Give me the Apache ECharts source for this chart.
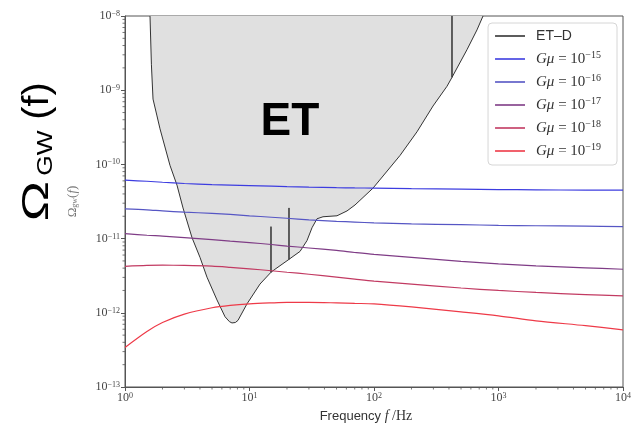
<!DOCTYPE html>
<html>
<head>
<meta charset="utf-8">
<script src="https://cdn.jsdelivr.net/npm/echarts@6/dist/echarts.min.js"></script>
<style>
  html, body { margin: 0; padding: 0; background: #fff; }
  #chart { width: 634px; height: 428px; }
</style>
</head>
<body>
<div id="chart"></div>
<script>
// ET-D sensitivity curve (power-law integrated), frequency in Hz
const freqET = [1.588, 1.63, 1.679, 1.807, 1.91, 2.298, 2.616, 2.924, 3.453, 4.004, 4.556, 5.48, 6.36, 6.9, 7.23, 7.7, 8.08, 9.55,
  12.14, 14.88, 14.88, 14.88, 16.02, 20.76, 20.76, 20.76, 22.36, 25.44, 28.96, 31.77, 34.85, 38.94, 50.44, 60.7,
  70.4, 98.2, 161.8, 221.5, 297.8, 385.8, 423.1, 423.1, 423.1, 558.5, 671.8, 751];
const omegaET = [1e-8, 2.2e-9, 7.59e-10, 4.5e-10, 3.02e-10, 9.7e-11, 5.25e-11, 2.59e-11, 1.03e-11, 5.58e-12, 3.02e-12, 1.49e-12,
  8.85e-13, 7.6e-13, 7.3e-13, 7.4e-13, 7.9e-13, 1.32e-12, 2.44e-12, 3.52e-12, 1.45e-11, 3.52e-12, 3.86e-12, 5.25e-12, 2.59e-11,
  5.25e-12, 5.75e-12, 6.71e-12, 9.4e-12, 1.40e-11, 1.85e-11, 1.97e-11, 2.03e-11, 2.36e-11, 2.84e-11, 4.79e-11,
  1.32e-10, 2.75e-10, 6.12e-10, 1.13e-9, 1.49e-9, 1e-8, 1.49e-9, 3.52e-9, 6.5e-9, 1e-8];

// Cosmic-string background spectra, sampled on a common frequency grid
const freqGmu = [1, 1.5, 2, 3, 5, 7, 10, 15, 20, 30, 50, 70, 100, 200, 500, 1000, 2000, 5000, 10000];
const omegaGmu15 = [6.12e-11, 5.93e-11, 5.75e-11, 5.53e-11, 5.33e-11, 5.25e-11, 5.17e-11, 5.09e-11, 5.01e-11, 4.93e-11,
  4.86e-11, 4.82e-11, 4.79e-11, 4.71e-11, 4.64e-11, 4.57e-11, 4.55e-11, 4.5e-11, 4.5e-11];
const omegaGmu16 = [2.51e-11, 2.44e-11, 2.36e-11, 2.27e-11, 2.19e-11, 2.12e-11, 2.03e-11, 1.94e-11, 1.88e-11, 1.79e-11,
  1.71e-11, 1.67e-11, 1.63e-11, 1.58e-11, 1.54e-11, 1.51e-11, 1.49e-11, 1.47e-11, 1.45e-11];
const omegaGmu17 = [1.17e-11, 1.11e-11, 1.08e-11, 1.03e-11, 9.7e-12, 9.26e-12, 8.85e-12, 8.32e-12, 7.94e-12, 7.47e-12,
  6.92e-12, 6.5e-12, 6.12e-12, 5.58e-12, 4.94e-12, 4.57e-12, 4.3e-12, 4.04e-12, 3.86e-12];
const omegaGmu18 = [4.23e-12, 4.35e-12, 4.38e-12, 4.35e-12, 4.25e-12, 4.1e-12, 3.92e-12, 3.69e-12, 3.52e-12, 3.31e-12,
  3.02e-12, 2.84e-12, 2.67e-12, 2.44e-12, 2.16e-12, 2.0e-12, 1.88e-12, 1.76e-12, 1.69e-12];
const omegaGmu19 = [3.41e-13, 5.6e-13, 7.4e-13, 9.6e-13, 1.17e-12, 1.26e-12, 1.32e-12, 1.36e-12, 1.38e-12, 1.38e-12,
  1.36e-12, 1.34e-12, 1.32e-12, 1.20e-12, 1.03e-12, 9.1e-13, 7.8e-13, 6.7e-13, 5.9e-13];

const gmuExponents = [-15, -16, -17, -18, -19];
const gmuSeries = [omegaGmu15, omegaGmu16, omegaGmu17, omegaGmu18, omegaGmu19];
const gmuColors = ['#3d3de0', '#5656c4', '#7f3c86', '#c23a62', '#ee3a48'];

const xRange = [1, 1e4];
const yRange = [1e-13, 1e-8];

const serif = 'Liberation Serif';
const sans = 'Liberation Sans';

function pair(xs, ys) { return xs.map((x, i) => [x, ys[i]]); }
function minusSign(e) { return e < 0 ? '\u2212' + (-e) : String(e); }
function powLabel(v) {
  const e = Math.round(Math.log10(v));
  return '{b|10}{s|' + minusSign(e) + '}';
}

// minor tick positions (2..9 within each decade)
function minorValues(lo, hi) {
  const out = [];
  for (let d = lo; d < hi; d *= 10) for (let m = 2; m <= 9; m++) out.push(m * d);
  return out;
}
const xMinor = minorValues(xRange[0], xRange[1]);
const yMinor = minorValues(yRange[0], yRange[1]);

const tickRich = {
  b: { fontFamily: serif, fontSize: 12, color: '#444' },
  s: { fontFamily: serif, fontSize: 8, color: '#444', verticalAlign: 'top' }
};

const legendNames = ['ET\u2013D'].concat(gmuExponents.map(e => 'Gmu' + e));
const legendRich = {
  t: { fontFamily: sans, fontSize: 14, color: '#333' },
  i: { fontFamily: serif, fontSize: 15, fontStyle: 'italic', color: '#333' },
  n: { fontFamily: serif, fontSize: 15, color: '#333' },
  s: { fontFamily: serif, fontSize: 10, color: '#333', verticalAlign: 'top' }
};
function legendLabel(name) {
  if (name.indexOf('Gmu') === 0) {
    const e = Number(name.slice(3));
    return '{i|G\u03bc}{n| = 10}{s|' + minusSign(e) + '}';
  }
  return '{t|' + name + '}';
}

const series = [{
  name: 'ET\u2013D',
  type: 'line',
  data: pair(freqET, omegaET),
  symbol: 'none',
  lineStyle: { color: '#333', width: 1 },
  itemStyle: { color: '#333' },
  areaStyle: { color: '#e0e0e0', opacity: 1, origin: 'end' },
  z: 2
}];
gmuSeries.forEach((vals, k) => {
  series.push({
    name: 'Gmu' + gmuExponents[k],
    type: 'line',
    data: pair(freqGmu, vals),
    symbol: 'none',
    smooth: 0.3,
    lineStyle: { color: gmuColors[k], width: 1.2 },
    itemStyle: { color: gmuColors[k] },
    z: 3
  });
});
// minor ticks drawn through the axis scales
series.push({
  type: 'custom',
  silent: true,
  clip: false,
  data: [[1, 1e-12]],
  z: 5,
  renderItem(params, api) {
    if (params.dataIndex !== 0) return;
    const children = [];
    const st = { stroke: '#555', lineWidth: 0.8 };
    xMinor.forEach(v => {
      const p = api.coord([v, yRange[0]]);
      children.push({ type: 'line', shape: { x1: p[0], y1: p[1], x2: p[0], y2: p[1] + 2.5 }, style: st });
    });
    yMinor.forEach(v => {
      const p = api.coord([xRange[0], v]);
      children.push({ type: 'line', shape: { x1: p[0] - 2.5, y1: p[1], x2: p[0], y2: p[1] }, style: st });
    });
    return { type: 'group', children };
  }
});

const chart = echarts.init(document.getElementById('chart'), null, { renderer: 'canvas' });
chart.setOption({
  animation: false,
  backgroundColor: '#fff',
  grid: { left: 125, top: 16, right: 11, bottom: 37, show: true, borderColor: '#555', borderWidth: 1 },
  xAxis: {
    type: 'log', logBase: 10, min: xRange[0], max: xRange[1],
    axisLine: { show: true, lineStyle: { color: '#555', width: 1 } },
    axisTick: { show: true, inside: false, length: 4, lineStyle: { color: '#555' } },
    splitLine: { show: false },
    axisLabel: { margin: 5, formatter: powLabel, rich: tickRich },
    name: '{t|Frequency }{i|f}{n| /Hz}',
    nameLocation: 'middle',
    nameGap: 22,
    nameTextStyle: {
      padding: [0, 16, 0, 0],
      rich: {
        t: { fontFamily: sans, fontSize: 13, color: '#333' },
        i: { fontFamily: serif, fontSize: 14, fontStyle: 'italic', color: '#333' },
        n: { fontFamily: serif, fontSize: 14, color: '#333' }
      }
    }
  },
  yAxis: {
    type: 'log', logBase: 10, min: yRange[0], max: yRange[1],
    axisLine: { show: true, lineStyle: { color: '#555', width: 1 } },
    axisTick: { show: true, inside: false, length: 4, lineStyle: { color: '#555' } },
    splitLine: { show: false },
    axisLabel: { margin: 5, formatter: powLabel, rich: tickRich },
    name: '{a|\u03a9}{s|gw}{a|(}{i|f}{a|)}',
    nameLocation: 'middle',
    nameGap: 46,
    nameRotate: 90,
    nameTextStyle: {
      rich: {
        a: { fontFamily: serif, fontSize: 13, color: '#777' },
        i: { fontFamily: serif, fontSize: 13, fontStyle: 'italic', color: '#777' },
        s: { fontFamily: serif, fontSize: 8, color: '#777', verticalAlign: 'bottom' }
      }
    }
  },
  legend: {
    data: legendNames,
    orient: 'vertical',
    right: 17,
    top: 23,
    icon: 'rect',
    itemWidth: 30,
    itemHeight: 1.6,
    itemGap: 5,
    padding: [4, 16, 5, 7],
    backgroundColor: '#fff',
    borderColor: '#d6d6d6',
    borderWidth: 1,
    borderRadius: 4,
    formatter: legendLabel,
    textStyle: { rich: legendRich, lineHeight: 18, padding: [0, 0, 0, 6] }
  },
  graphic: [
    { type: 'text', x: 290, y: 122, z: 10, silent: true,
      style: { text: 'ET', font: 'bold 46px "Liberation Sans"', fill: '#000', align: 'center', verticalAlign: 'middle' } },
    { type: 'text', x: 38, y: 201, rotation: Math.PI / 2, scaleX: 1.5, silent: true,
      style: { text: '\u03a9', font: '36px "Liberation Sans"', fill: '#000', align: 'center', verticalAlign: 'middle' } },
    { type: 'text', x: 46, y: 153, rotation: Math.PI / 2, scaleX: 1.2, silent: true,
      style: { text: 'GW', font: '22px "Liberation Sans"', fill: '#000', align: 'center', verticalAlign: 'middle' } },
    { type: 'text', x: 38, y: 101, rotation: Math.PI / 2, scaleX: 1.1, silent: true,
      style: { text: '(f)', font: '36px "Liberation Sans"', fill: '#000', align: 'center', verticalAlign: 'middle' } }
  ],
  series
});
</script>
</body>
</html>
